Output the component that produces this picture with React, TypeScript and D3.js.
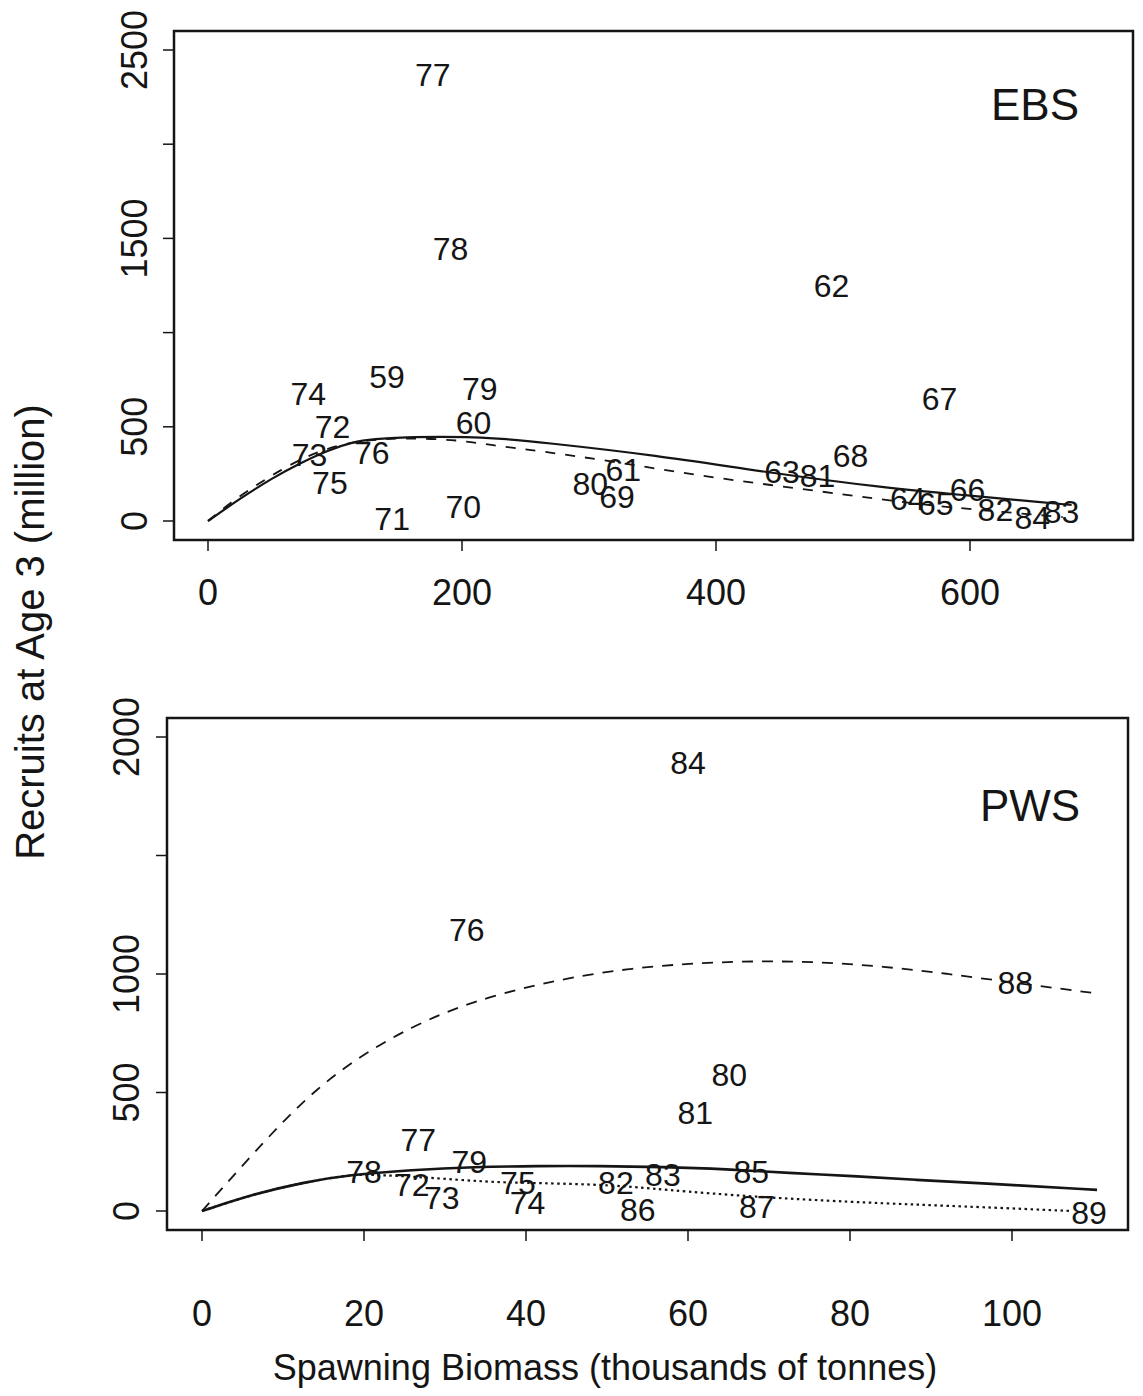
import React from "react";
import * as d3 from "d3";

// ---------- EBS panel data ----------
const ebsYears = ["59","60","61","62","63","64","65","66","67","68","69","70","71","72","73","74","75","76","77","78","79","80","81","82","83","84"];
const ebsBiomass = [141,209,327,491,452,551,573,598,576,506,322,201,145,98,80,79,96,129,177,191,214,301,480,620,672,649];
const ebsRecruits = [764,520,271,1247,260,117,90,165,648,345,127,74,11,499,350,674,202,361,2367,1444,701,196,239,58,48,16];

const ebsSolidX = [0,25,51,72,94,114,130,157,183,209,235,261,352,443,534,594,655,680];
const ebsSolidY = [0,118,230,305,375,419,435,446,447,446,435,419,350,255,175,138,101,85];
const ebsDashX = [0,17,39,57,78,104,130,157,198,222,261,322,383,443,504,534,580,673];
const ebsDashY = [0,95,195,270,345,408,432,441,430,403,372,313,244,191,138,111,74,21];

const ebsXTicks = [0,200,400,600];
const ebsYTicks = [0,500,1000,1500,2000,2500];
const ebsYLabels = [0,500,1500,2500];

// ---------- PWS panel data ----------
const pwsYears = ["72","73","74","75","76","77","78","79","80","81","82","83","84","85","86","87","88","89"];
const pwsBiomass = [25.9,29.6,40.2,39.0,32.7,26.7,20.0,33.0,65.1,60.9,51.1,56.9,60.0,67.8,53.8,68.5,100.4,109.5];
const pwsRecruits = [110,55,34,118,1186,300,165,207,574,413,118,152,1890,165,4,17,962,-8];

const pwsDashX = [0,2.6,6.4,10.4,14.2,18.1,22.0,25.9,29.8,33.6,38.3,45.3,53.1,60.9,68.5,76.3,84.1,91.9,99.6,110.5];
const pwsDashY = [0,100,245,392,515,618,703,775,835,882,930,985,1025,1046,1055,1051,1032,1002,966,918];
const pwsSolidX = [0,6.4,12.7,18.1,25.9,33.6,41.4,49.1,56.9,64.7,72.5,80.3,88.1,95.8,110.5];
const pwsSolidY = [0,72,122,152,173,186,190,190,186,177,160,148,131,118,89];
const pwsDotX = [0,6.4,12.7,18.1,20.5,27.4,35.2,41.4,50.7,56.9,68.4,80.3,88.1,95.8,107.4];
const pwsDotY = [0,72,122,152,154,143,122,118,110,90,59,38,27,17,0];

const pwsXTicks = [0,20,40,60,80,100];
const pwsYTicks = [0,500,1000,1500,2000];
const pwsYLabels = [0,500,1000,2000];

const FONT = "'Liberation Sans', Arial, Helvetica, sans-serif";
const INK = "#151515";

type PanelProps = {
  box: { l: number; r: number; t: number; b: number };
  x: d3.ScaleLinear<number, number>;
  y: d3.ScaleLinear<number, number>;
  xTicks: number[];
  yTicks: number[];
  yLabels: number[];
  xLabelY: number;
  yLabelX: number;
  years: string[];
  bx: number[];
  ry: number[];
  curves: { xs: number[]; ys: number[]; dash?: string; width: number }[];
  title: string;
  titlePos: [number, number];
};

function Panel(p: PanelProps) {
  const line = d3
    .line<[number, number]>()
    .x((d) => p.x(d[0]))
    .y((d) => p.y(d[1]))
    .curve(d3.curveBasis);
  return (
    <g>
      <rect
        x={p.box.l}
        y={p.box.t}
        width={p.box.r - p.box.l}
        height={p.box.b - p.box.t}
        fill="none"
        stroke={INK}
        strokeWidth={2.5}
      />
      {p.xTicks.map((t) => (
        <g key={"xt" + t}>
          <line x1={p.x(t)} x2={p.x(t)} y1={p.box.b} y2={p.box.b + 11} stroke={INK} strokeWidth={1.5} />
          <text x={p.x(t)} y={p.xLabelY} textAnchor="middle" dominantBaseline="central" fontSize={36} fontFamily={FONT} fill={INK}>
            {t}
          </text>
        </g>
      ))}
      {p.yTicks.map((t) => (
        <g key={"yt" + t}>
          <line x1={p.box.l - 11} x2={p.box.l} y1={p.y(t)} y2={p.y(t)} stroke={INK} strokeWidth={1.5} />
          {p.yLabels.includes(t) && (
            <text
              transform={`translate(${p.yLabelX},${p.y(t)}) rotate(-90)`}
              textAnchor="middle"
              dominantBaseline="central"
              fontSize={36}
              fontFamily={FONT}
              fill={INK}
            >
              {t}
            </text>
          )}
        </g>
      ))}
      {p.curves.map((c, i) => (
        <path
          key={"c" + i}
          d={line(c.xs.map((v, j) => [v, c.ys[j]] as [number, number])) || ""}
          fill="none"
          stroke={INK}
          strokeWidth={c.width}
          strokeDasharray={c.dash}
        />
      ))}
      {p.years.map((yr, i) => (
        <text
          key={"pt" + yr}
          x={p.x(p.bx[i])}
          y={p.y(p.ry[i])}
          textAnchor="middle"
          dominantBaseline="central"
          fontSize={32}
          fontFamily={FONT}
          fill={INK}
        >
          {yr}
        </text>
      ))}
      <text x={p.titlePos[0]} y={p.titlePos[1]} textAnchor="middle" dominantBaseline="central" fontSize={44} fontFamily={FONT} fill={INK}>
        {p.title}
      </text>
    </g>
  );
}

export default function App() {
  const xTop = d3.scaleLinear().domain([0, 600]).range([208, 970]);
  const yTop = d3.scaleLinear().domain([0, 2500]).range([521, 50]);
  const xBot = d3.scaleLinear().domain([0, 100]).range([202, 1012]);
  const yBot = d3.scaleLinear().domain([0, 2000]).range([1211, 737]);

  return (
    <svg width={1143} height={1396} style={{ position: "absolute", left: 0, top: 0, background: "#fff" }}>
      <rect x={0} y={0} width={1143} height={1396} fill="#fff" />
      <Panel
        box={{ l: 174, r: 1133, t: 31, b: 540 }}
        x={xTop}
        y={yTop}
        xTicks={ebsXTicks}
        yTicks={ebsYTicks}
        yLabels={ebsYLabels}
        xLabelY={592}
        yLabelX={134}
        years={ebsYears}
        bx={ebsBiomass}
        ry={ebsRecruits}
        curves={[
          { xs: ebsSolidX, ys: ebsSolidY, width: 2.2 },
          { xs: ebsDashX, ys: ebsDashY, dash: "10,10", width: 1.8 },
        ]}
        title="EBS"
        titlePos={[1035, 104]}
      />
      <Panel
        box={{ l: 167, r: 1128, t: 718, b: 1230 }}
        x={xBot}
        y={yBot}
        xTicks={pwsXTicks}
        yTicks={pwsYTicks}
        yLabels={pwsYLabels}
        xLabelY={1313}
        yLabelX={126}
        years={pwsYears}
        bx={pwsBiomass}
        ry={pwsRecruits}
        curves={[
          { xs: pwsDashX, ys: pwsDashY, dash: "11,9", width: 1.8 },
          { xs: pwsSolidX, ys: pwsSolidY, width: 2.6 },
          { xs: pwsDotX, ys: pwsDotY, dash: "2.5,3.5", width: 2.2 },
        ]}
        title="PWS"
        titlePos={[1030, 805]}
      />
      <text
        transform="translate(30,632) rotate(-90)"
        textAnchor="middle"
        dominantBaseline="central"
        fontSize={40}
        fontFamily={FONT}
        fill={INK}
      >
        Recruits at Age 3 (million)
      </text>
      <text x={605} y={1367} textAnchor="middle" dominantBaseline="central" fontSize={36} fontFamily={FONT} fill={INK}>
        Spawning Biomass (thousands of tonnes)
      </text>
    </svg>
  );
}
